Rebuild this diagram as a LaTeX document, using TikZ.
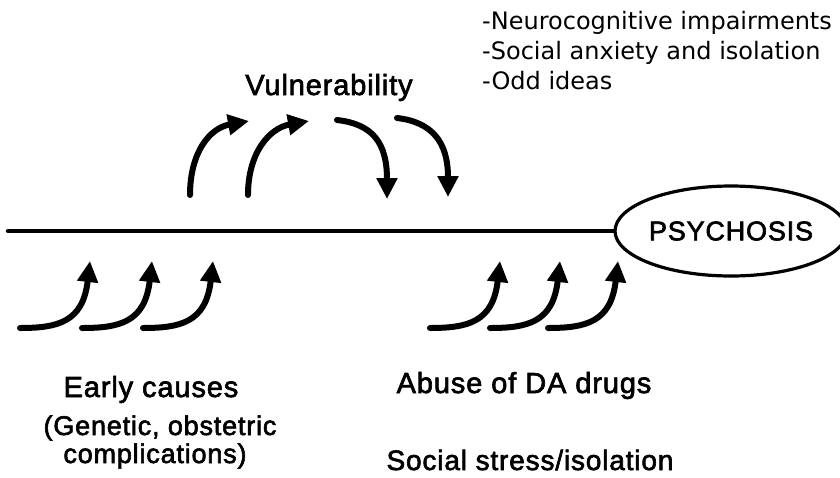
\documentclass[tikz,border=0pt]{standalone}
\usepackage{fontspec}
\setmainfont{Liberation Sans}
\newfontfamily\scanfont[FakeBold=2.2,LetterSpace=3]{Liberation Sans}
\newfontfamily\verdanalike{DejaVu Sans}
\usetikzlibrary{arrows.meta,shapes.geometric}
\begin{document}
\begin{tikzpicture}[x=1pt,y=-1pt,
  bigtext/.style={font=\scanfont\fontsize{29}{33}\selectfont, inner sep=0pt, anchor=base},
  listtext/.style={font=\verdanalike\fontsize{24}{30}\selectfont, inner sep=0pt, anchor=base west},
  curvearrow/.style={line width=6pt, line cap=round, -{Triangle[length=21pt,width=20pt]}},
  mainline/.style={line width=4.5pt, line cap=round}]
\useasboundingbox (0,0) rectangle (840,477);

% list text
\node[listtext] (l1) at (482,29) {-Neurocognitive impairments};
\node[listtext] (l2) at (482,59) {-Social anxiety and isolation};
\node[listtext] (l3) at (482,89) {-Odd ideas};

\node[bigtext] (vul) at (329,95) {Vulnerability};

% psychosis
\node[draw, ellipse, line width=3.2pt, minimum width=212pt, minimum height=90pt, inner sep=0pt,
      font=\scanfont\fontsize{27}{30}\selectfont] (psy) at (731,231) {PSYCHOSIS};
\coordinate (ls) at (8,231);
\draw[mainline] (ls) -- (psy.west);

% upper arrows
\coordinate (a1s) at (190,195); \coordinate (a1e) at (249,121);
\coordinate (a2s) at (248,195); \coordinate (a2e) at (309,121);
\coordinate (a3s) at (337,120); \coordinate (a3e) at (387,199);
\coordinate (a4s) at (397,118); \coordinate (a4e) at (448,197);
\draw[curvearrow] (a1s) .. controls (190,152) and (210,128) .. (a1e);
\draw[curvearrow] (a2s) .. controls (248,152) and (270,128) .. (a2e);
\draw[curvearrow] (a3s) .. controls (372,124) and (387,142) .. (a3e);
\draw[curvearrow] (a4s) .. controls (432,122) and (448,142) .. (a4e);

% lower arrows
\foreach \n/\x in {b1/20,b2/82,b3/143,b4/430,b5/490,b6/548}{
  \coordinate (\n s) at (\x,328);
  \coordinate (\n e) at (\x+70,261);
  \draw[curvearrow] (\n s) .. controls (\x+38,328) and (\x+63,322) .. (\n e);
}

% bottom texts
\node[bigtext] (e1) at (151,397) {Early causes};
\node[bigtext, font=\scanfont\fontsize{27}{30}\selectfont] (e2) at (160,435) {(Genetic, obstetric};
\node[bigtext, font=\scanfont\fontsize{27}{30}\selectfont] (e3) at (155,463) {complications)};
\node[bigtext] (d1) at (524,393) {Abuse of DA drugs};
\node[bigtext, font=\scanfont\fontsize{28}{30}\selectfont] (d2) at (530,470) {Social stress/isolation};
\end{tikzpicture}
\end{document}
